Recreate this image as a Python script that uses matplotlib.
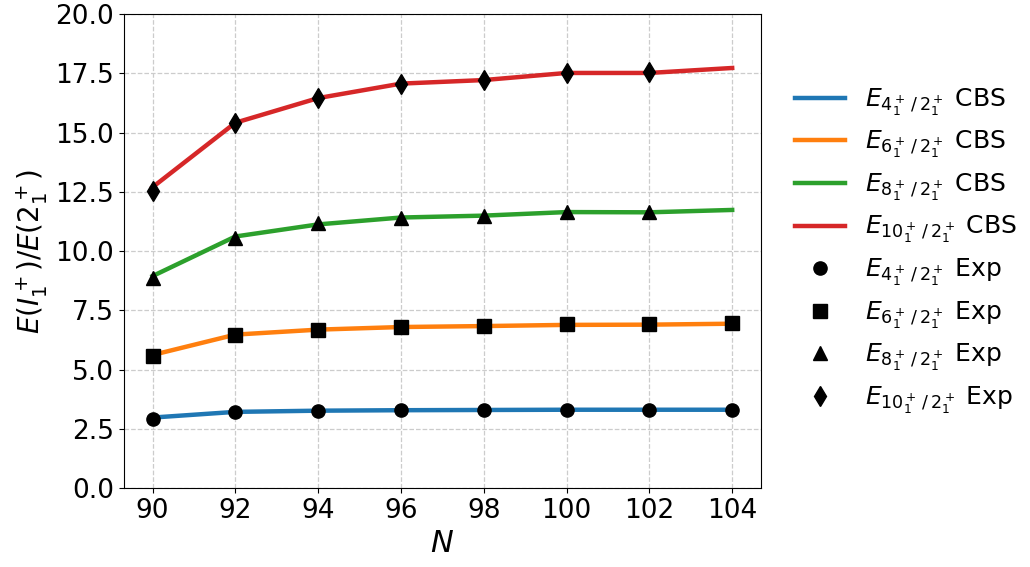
import matplotlib
matplotlib.use("Agg")
import matplotlib.pyplot as plt

# neutron numbers
N = [90, 92, 94, 96, 98, 100, 102, 104]

# CBS model energy ratios E(I_1^+)/E(2_1^+)
cbs_4 = [2.98, 3.22, 3.27, 3.29, 3.30, 3.31, 3.31, 3.31]
cbs_6 = [5.62, 6.48, 6.69, 6.80, 6.84, 6.89, 6.90, 6.94]
cbs_8 = [8.95, 10.62, 11.13, 11.42, 11.50, 11.65, 11.64, 11.74]
cbs_10 = [12.70, 15.42, 16.46, 17.07, 17.22, 17.52, 17.52, 17.73]

# experimental ratios (no 8+ / 10+ data at N=104)
N_exp_high = [90, 92, 94, 96, 98, 100, 102]
exp_4 = [2.94, 3.21, 3.26, 3.29, 3.30, 3.30, 3.30, 3.30]
exp_6 = [5.57, 6.48, 6.69, 6.81, 6.84, 6.91, 6.91, 6.95]
exp_8 = [8.85, 10.55, 11.17, 11.41, 11.49, 11.66, 11.65]
exp_10 = [12.54, 15.40, 16.47, 17.07, 17.22, 17.52, 17.55]

cbs_labels = [r'$E_{4_1^+\,/\,2_1^+}$ CBS', r'$E_{6_1^+\,/\,2_1^+}$ CBS',
              r'$E_{8_1^+\,/\,2_1^+}$ CBS', r'$E_{10_1^+\,/\,2_1^+}$ CBS']
exp_labels = [r'$E_{4_1^+\,/\,2_1^+}$ Exp', r'$E_{6_1^+\,/\,2_1^+}$ Exp',
              r'$E_{8_1^+\,/\,2_1^+}$ Exp', r'$E_{10_1^+\,/\,2_1^+}$ Exp']
colors = ['#1f77b4', '#ff7f0e', '#2ca02c', '#d62728']
markers = ['o', 's', '^', 'd']

fig, ax = plt.subplots(figsize=(10.3, 5.67), dpi=100)
fig.subplots_adjust(left=0.120, right=0.739, top=0.975, bottom=0.139)

for vals, lab, c in zip([cbs_4, cbs_6, cbs_8, cbs_10], cbs_labels, colors):
    ax.plot(N, vals, color=c, linewidth=3.2, label=lab)

exp_sets = [(N, exp_4), (N, exp_6), (N_exp_high, exp_8), (N_exp_high, exp_10)]
for (xs, vals), lab, m in zip(exp_sets, exp_labels, markers):
    ax.plot(xs, vals, linestyle='none', marker=m, color='black',
            markersize=10 if m == 'd' else 9.5, label=lab, zorder=3)

ax.set_ylim(0, 20)
ax.set_xticks(N)
ax.tick_params(labelsize=19)
ax.set_xlabel(r'$N$', fontsize=22)
ax.set_ylabel(r'$E(I_1^+)/E(2_1^+)$', fontsize=20)
ax.grid(True, linestyle='--', color='#cccccc', linewidth=0.9)

ax.legend(loc='center left', bbox_to_anchor=(1.017, 0.5), frameon=False,
          fontsize=18, labelspacing=0.46)

fig.savefig('out.png', dpi=100)
